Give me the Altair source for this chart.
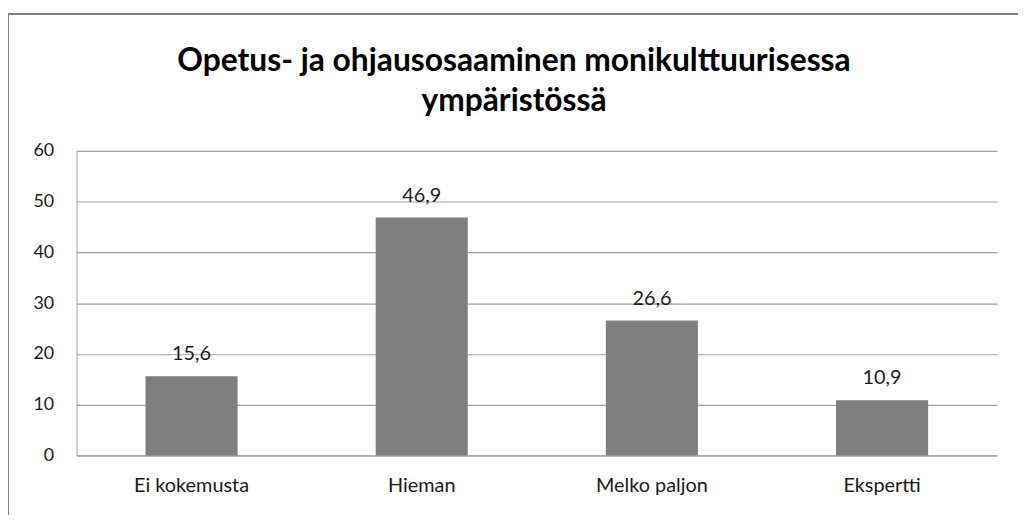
import altair as alt
import pandas as pd

categories = ["Ei kokemusta", "Hieman", "Melko paljon", "Ekspertti"]
values = [15.6, 46.9, 26.6, 10.9]
title_lines = ["Opetus- ja ohjausosaaminen monikulttuurisessa", "ympäristössä"]

df = pd.DataFrame({"cat": categories, "val": values})

FONT = "Lato"
GREY = "#7f7f7f"
TXT = "#1a1a1a"

base = alt.Chart(df)

x = alt.X("cat:N", sort=categories, title=None,
          scale=alt.Scale(paddingInner=0.6, paddingOuter=0.3),
          axis=alt.Axis(labelAngle=0, labelFontSize=20, labelColor=TXT,
                        labelFont=FONT, ticks=False, domain=True,
                        domainColor="#a0a0a0", labelPadding=20))
y = alt.Y("val:Q", title=None,
          scale=alt.Scale(domain=[0, 60]),
          axis=alt.Axis(values=[0, 10, 20, 30, 40, 50, 60], labelFontSize=18,
                        labelColor=TXT, labelFont=FONT, ticks=False,
                        gridColor="#a0a0a0", gridWidth=1.2, domainColor="#a0a0a0",
                        labelPadding=23))

bars = base.mark_bar(color=GREY).encode(x=x, y=y)

labels = base.mark_text(baseline="alphabetic", dy=-16, fontSize=20, font=FONT,
                        color=TXT).transform_calculate(
    lab="replace(format(datum.val, '.1f'), '.', ',')"
).encode(x=alt.X("cat:N", sort=categories), y="val:Q", text="lab:N")

frame_top = base.mark_rule(color="#808080", strokeWidth=1.5).encode(
    x=alt.value(-69), x2=alt.value(960), y=alt.value(-138))
frame_left = base.mark_rule(color="#808080", strokeWidth=1.5).encode(
    x=alt.value(-69), y=alt.value(-138), y2=alt.value(380))

title_marks = []
for i, line in enumerate(title_lines):
    t = alt.Chart(pd.DataFrame({"t": [line]})).mark_text(
        font=FONT, fontSize=32, fontWeight="bold", color="#000",
        align="center", baseline="alphabetic"
    ).encode(text="t:N", x=alt.value(441), y=alt.value(-81 + 41 * i))
    title_marks.append(t)

chart = alt.layer(frame_top, frame_left, bars, labels, *title_marks).properties(
    width=928, height=307,
    autosize=alt.AutoSizeParams(type="none"),
    padding={"left": 69, "top": 142, "right": 21, "bottom": 58},
).configure_view(stroke=None)

chart.save("out.html", embed_options={"renderer": "svg", "actions": False})
